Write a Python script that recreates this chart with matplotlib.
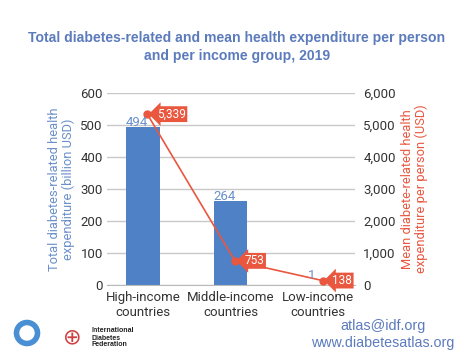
import matplotlib
matplotlib.use("Agg")
import matplotlib.pyplot as plt
from matplotlib.patches import Ellipse

categories = ["High-income\ncountries", "Middle-income\ncountries", "Low-income\ncountries"]
total_exp = [494, 264, 1]
per_person = [5339, 753, 138]
per_person_labels = ["5,339", "753", "138"]
left_ticks = [0, 100, 200, 300, 400, 500, 600]
right_ticks = [0, 1000, 2000, 3000, 4000, 5000, 6000]
right_tick_labels = ["0", "1,000", "2,000", "3,000", "4,000", "5,000", "6,000"]

BLUE = "#4f81c6"
LBLUE = "#6a8fca"
TBLUE = "#5b7bbd"
RED = "#e9573f"
GRAY = "#333333"

fig = plt.figure(figsize=(4.74, 3.63), dpi=100)
ax = fig.add_axes([0.2257, 0.2149, 0.5232, 0.5289])
x = list(range(len(categories)))
ax.bar(x, total_exp, width=0.38, color=BLUE, zorder=2)
ax.set_xlim(-0.41, 2.42)
ax.set_ylim(0, 600)
ax.set_yticks(left_ticks)
ax.set_yticklabels([str(t) for t in left_ticks], family="Roboto", color=GRAY, fontsize=9.5)
ax.set_xticks(x)
ax.set_xticklabels(categories, family="Roboto", color=GRAY, fontsize=9.5, linespacing=1.25)
ax.tick_params(axis="y", length=0, pad=3)
ax.tick_params(axis="x", length=0, pad=4)
ax.grid(axis="y", color="#c8c8c8", linewidth=1, zorder=0)
for s in ["top", "right", "left"]:
    ax.spines[s].set_visible(False)
ax.spines["bottom"].set_color("#bbbbbb")
ax.set_ylabel("Total diabetes-related health\nexpenditure (billion USD)", color=LBLUE,
              family="Roboto", fontsize=9.3, linespacing=1.05, labelpad=4)

ax2 = ax.twinx()
ax2.set_ylim(0, 6000)
ax2.set_yticks(right_ticks)
ax2.set_yticklabels(right_tick_labels, family="Roboto", color=GRAY, fontsize=9.5)
ax2.tick_params(axis="y", length=0, pad=6)
for s in ["top", "right", "left", "bottom"]:
    ax2.spines[s].set_visible(False)
ax2.plot([xi + 0.05 for xi in x], per_person, color=RED, linewidth=1.2, marker="o", markersize=5, zorder=3)
for xi, v, lab in zip(x, per_person, per_person_labels):
    ax2.annotate(lab, xy=(xi + 0.05, v), xytext=(7, 0), textcoords="offset points",
                 ha="left", va="center", color="white", family="Roboto", fontsize=8.5,
                 bbox=dict(boxstyle="larrow,pad=0.12", fc=RED, ec="none"), zorder=4)
ax2.set_ylabel("Mean diabete-related health\nexpenditure per person (USD)", color=RED,
               family="Roboto", fontsize=9.3, linespacing=1.05, labelpad=4)
# bar value labels drawn on top of the line layer
for xi, v in zip(x, total_exp):
    ax2.text(xi - 0.07, max(v, 15) + 3, str(v), ha="center", va="baseline", color=LBLUE,
             family="Roboto", fontsize=9.5, zorder=6, transform=ax.transData)

fig.text(0.5, 1 - 47 / 363, "Total diabetes-related and mean health expenditure per person\nand per income group, 2019",
         ha="center", va="center", color=TBLUE, family="Liberation Sans", fontweight="bold",
         fontsize=10.1, linespacing=1.4)

# footer
fig.patches.append(Ellipse((27 / 474, 1 - 333 / 363), 21 / 474, 21 / 363, transform=fig.transFigure,
                           fill=False, ec="#4a8fd3", lw=4.0))
fig.text(91 / 474, 1 - 338 / 363, "International\nDiabetes\nFederation", ha="left", va="center",
         fontsize=5.0, fontweight="bold", color="#222222", family="Liberation Sans", linespacing=1.0)
fig.text(72 / 474, 1 - 337 / 363, "\u2295", ha="center", va="center", fontsize=16, color="#d04040",
         family="DejaVu Sans")
fig.text(426 / 474, 1 - 326 / 363, "atlas@idf.org", ha="right", va="center", fontsize=10.4,
         color=TBLUE, family="Liberation Sans")
fig.text(454 / 474, 1 - 343 / 363, "www.diabetesatlas.org", ha="right", va="center", fontsize=10.3,
         color=TBLUE, family="Liberation Sans")

fig.savefig("out.png", dpi=100)
